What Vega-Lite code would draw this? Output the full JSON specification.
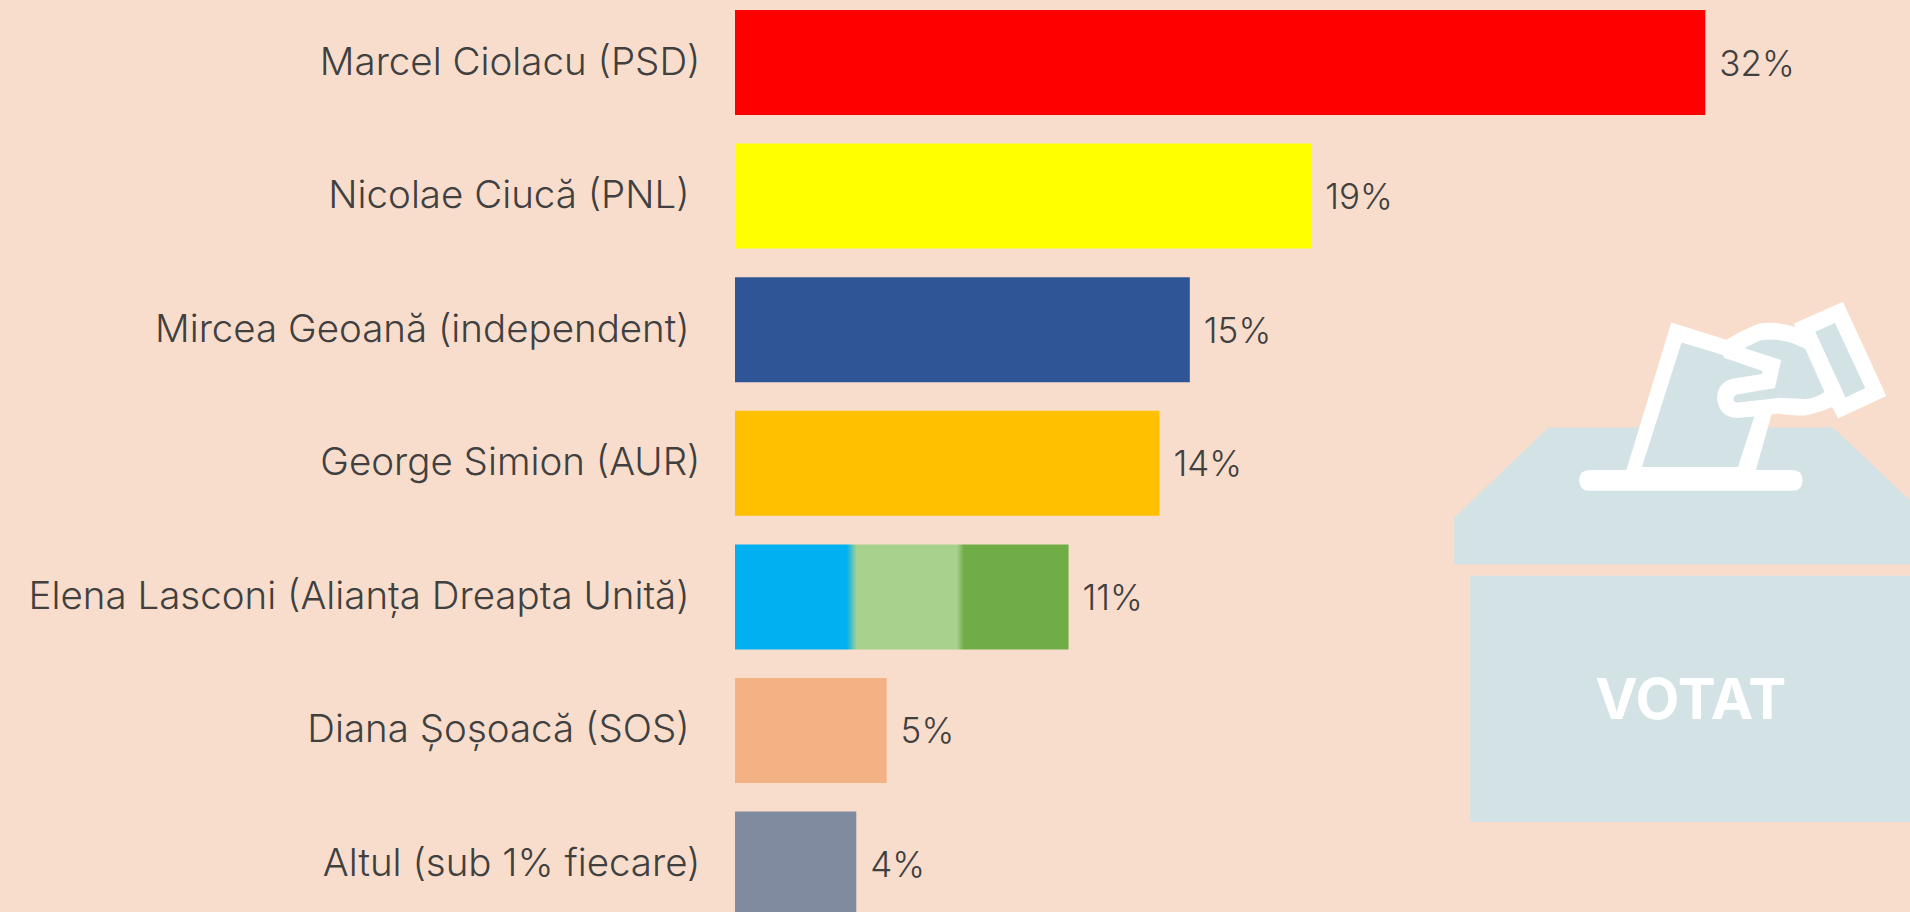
{"$schema":"https://vega.github.io/schema/vega-lite/v6.json","width":1175,"height":912,"autosize":{"type":"none"},"padding":{"left":735,"top":0,"right":0,"bottom":0},"background":"#F8DDCC","config":{"view":{"stroke":null}},"data":{"values":[{"candidat":"Marcel Ciolacu (PSD)","procent":32,"eticheta":"32%"},{"candidat":"Nicolae Ciucă (PNL)\u00a0\u200b","procent":19,"eticheta":"19%"},{"candidat":"Mircea Geoană (independent)\u00a0\u200b","procent":15,"eticheta":"15%"},{"candidat":"George Simion (AUR)","procent":14,"eticheta":"14%"},{"candidat":"Elena Lasconi (Alianța Dreapta Unită)\u00a0\u200b","procent":11,"eticheta":"11%"},{"candidat":"Diana Șoșoacă (SOS)\u00a0\u200b","procent":5,"eticheta":"5%"},{"candidat":"Altul (sub 1% fiecare)","procent":4,"eticheta":"4%"}]},"encoding":{"y":{"field":"candidat","type":"nominal","sort":null,"scale":{"domain":["Marcel Ciolacu (PSD)","Nicolae Ciucă (PNL)\u00a0\u200b","Mircea Geoană (independent)\u00a0\u200b","George Simion (AUR)","Elena Lasconi (Alianța Dreapta Unită)\u00a0\u200b","Diana Șoșoacă (SOS)\u00a0\u200b","Altul (sub 1% fiecare)"],"range":[10,916.6],"paddingInner":0.214,"paddingOuter":0},"axis":{"title":null,"domain":false,"ticks":false,"labelFont":"Inter","labelFontSize":38.5,"labelFontWeight":300,"labelColor":"#404040","labelPadding":35,"labelLimit":800,"labelOffset":0}},"x":{"field":"procent","type":"quantitative","scale":{"domain":[0,38.75],"nice":false},"axis":null}},"layer":[{"data":{"values":[{"candidat":"Elena Lasconi (Alianța Dreapta Unită)\u00a0\u200b","procent":31.47,"element":"urnă"}]},"mark":{"type":"point","filled":true,"opacity":1,"size":4,"color":"#D2E2E5","strokeWidth":0,"shape":"M-235 -79.2L-140.7 -169.5L143.7 -169.5L221 -96.5L221 -32.5L-235 -32.5ZM-219 -21.2L221 -21.2L221 225.2L-219 225.2Z"}},{"data":{"values":[{"candidat":"Elena Lasconi (Alianța Dreapta Unită)\u00a0\u200b","procent":31.47,"element":"contur"}]},"mark":{"type":"point","filled":true,"opacity":1,"size":4,"color":"#FFFFFF","strokeWidth":0,"shape":"M-99.7 -126.8L103 -126.8Q113.3 -126.8 113.3 -116.5Q113.3 -106.2 103 -106.2L-99.7 -106.2Q-110 -106.2 -110 -116.5Q-110 -126.8 -99.7 -126.8ZM-65 -120L-18 -274.5L37.3 -257.2Q51 -266 69.3 -273.2Q87.7 -276 106 -269.8L104.3 -273.2L153.7 -295.2L197 -200.8L148.7 -178.5L143 -189.8Q131 -184.5 116 -181.5Q101 -181.5 89.3 -183.5L82.3 -182.5L64.7 -120Z"}},{"data":{"values":[{"candidat":"Elena Lasconi (Alianța Dreapta Unită)\u00a0\u200b","procent":31.47,"element":"interior"}]},"mark":{"type":"point","filled":true,"opacity":1,"size":4,"color":"#D2E2E5","strokeWidth":0,"shape":"M-7.7 -254.5L33.7 -241.8L34.7 -239.2L73.3 -225.8L72.7 -222.8L42.7 -218.2Q28 -214 27.7 -198.2Q30 -180 47.7 -178.8L65 -180.5L48.7 -129.8L-47.3 -129.8ZM55 -248.8L71 -256.5Q87.7 -259 102.7 -253.8L116 -248.2L135.3 -204.8Q125 -198 116 -197.8L91 -199.2L49.3 -194.5Q44.3 -194 44.3 -198Q44.3 -201.5 47.7 -202.5L85.7 -208.8L92 -236.8ZM126 -265.2L145.7 -273.8L176 -208.8L156.3 -199.5Z"}},{"data":{"values":[{"candidat":"Elena Lasconi (Alianța Dreapta Unită)\u00a0\u200b","procent":31.47,"element":"text","text":"VOTAT"}]},"mark":{"type":"text","font":"Inter","fontSize":57,"fontWeight":700,"color":"#FFFFFF","align":"center","baseline":"middle","dx":1.5,"dy":105.5},"encoding":{"text":{"field":"text"}}},{"transform":[{"filter":"datum.procent != 11"}],"mark":{"type":"bar"},"encoding":{"color":{"field":"candidat","type":"nominal","legend":null,"scale":{"domain":["Marcel Ciolacu (PSD)","Nicolae Ciucă (PNL)\u00a0\u200b","Mircea Geoană (independent)\u00a0\u200b","George Simion (AUR)","Diana Șoșoacă (SOS)\u00a0\u200b","Altul (sub 1% fiecare)"],"range":["#FF0000","#FFFF00","#2F5597","#FFC000","#F4B183","#808B9F"]}}}},{"transform":[{"filter":"datum.procent == 11"}],"mark":{"type":"bar","color":{"gradient":"linear","x1":0,"y1":0,"x2":1,"y2":0,"stops":[{"offset":0,"color":"#00B0F0"},{"offset":0.335,"color":"#00B0F0"},{"offset":0.365,"color":"#A9D18E"},{"offset":0.665,"color":"#A9D18E"},{"offset":0.686,"color":"#70AD47"},{"offset":1,"color":"#70AD47"}]}}},{"mark":{"type":"text","font":"Inter","fontSize":35,"fontWeight":300,"color":"#404040","align":"left","baseline":"middle","dx":14,"dy":2},"encoding":{"text":{"field":"eticheta"}}}]}
